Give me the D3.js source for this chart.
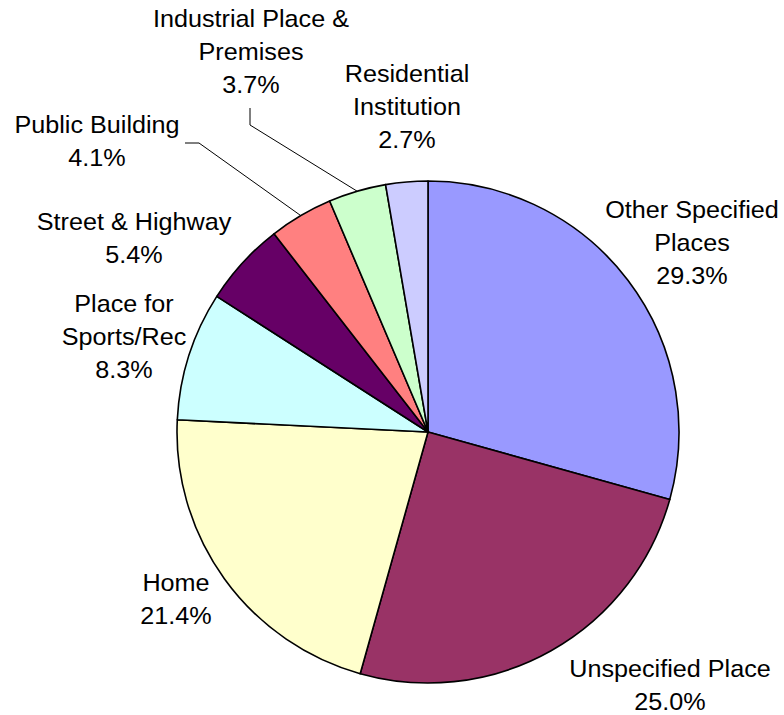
<!DOCTYPE html>
<html lang="en">
<head>
    <meta charset="utf-8">
    <title>Place of occurrence pie</title>
    <script type="text/javascript" src="https://d3js.org/d3.v7.min.js"></script>
    <style>
        body { margin: 0; background: #fff; }
        text { font-family: "Liberation Sans", Arial, sans-serif; font-size: 24px; fill: #000; }
    </style>
</head>
<body>
<svg class="pieChart"></svg>
<script type="text/javascript">
    // data
    let categories = ["Other Specified Places", "Unspecified Place", "Home", "Place for Sports/Rec",
        "Street & Highway", "Public Building", "Industrial Place & Premises", "Residential Institution"];
    let values = [29.3, 25.0, 21.4, 8.3, 5.4, 4.1, 3.7, 2.7];
    let labelLines = [
        ["Other Specified", "Places"],
        ["Unspecified Place"],
        ["Home"],
        ["Place for", "Sports/Rec"],
        ["Street & Highway"],
        ["Public Building"],
        ["Industrial Place &", "Premises"],
        ["Residential", "Institution"]
    ];
    let colors = ["#9999FF", "#993366", "#FFFFCC", "#CCFFFF", "#660066", "#FF8080", "#CCFFCC", "#CCCCFF"];

    // layout
    let W = 784, H = 715;
    let cx = 428, cy = 432, R = 251;
    let lineH = 33;
    // label anchor: center x, first baseline y
    let labelPos = [
        [692, 218], [670, 677], [176, 591], [124, 312],
        [134, 230], [97, 133], [251, 27], [407, 82]
    ];
    // leader line starting points (only for slices with a leader)
    let leaders = {
        5: [[185, 143], [199, 143]],
        6: [[250, 108], [250, 125]]
    };

    let svg = d3.select(".pieChart").attr("width", W).attr("height", H);

    let pie = d3.pie().sort(null).value(d => d);
    let arcs = pie(values);
    let arc = d3.arc().innerRadius(0).outerRadius(R);

    let g = svg.append("g").attr("transform", "translate(" + cx + "," + cy + ")");
    g.selectAll("path")
        .data(arcs)
        .enter().append("path")
        .attr("d", arc)
        .attr("fill", (d, i) => colors[i])
        .attr("stroke", "#000")
        .attr("stroke-width", 1.6)
        .attr("stroke-linejoin", "round");

    // leader lines
    Object.keys(leaders).forEach(function (k) {
        let a = arcs[+k];
        let mid = (a.startAngle + a.endAngle) / 2;
        let end = [cx + R * Math.sin(mid), cy - R * Math.cos(mid)];
        let pts = leaders[k].concat([end]);
        svg.append("path")
            .attr("d", d3.line()(pts))
            .attr("fill", "none")
            .attr("stroke", "#000")
            .attr("stroke-width", 1);
    });

    // labels
    arcs.forEach(function (a, i) {
        let lines = labelLines[i].concat([values[i].toFixed(1) + "%"]);
        let lg = svg.append("g")
            .attr("transform", "translate(" + labelPos[i][0] + "," + labelPos[i][1] + ") scale(1.05,1)");
        lg.selectAll("text")
            .data(lines)
            .enter().append("text")
            .attr("x", 0)
            .attr("y", (d, j) => j * lineH)
            .attr("text-anchor", "middle")
            .text(d => d);
    });
</script>
</body>
</html>
